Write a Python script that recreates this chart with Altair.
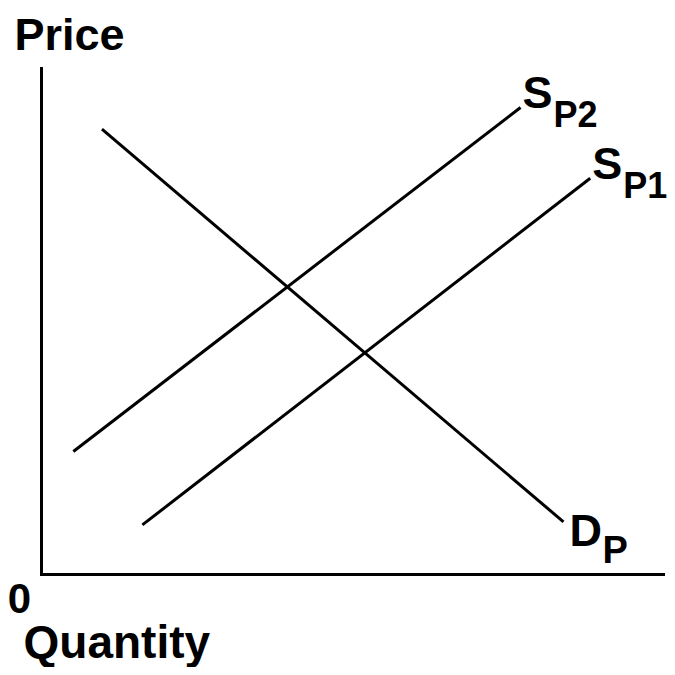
import altair as alt
import pandas as pd

# Curves (quantity / price units, axis range 0-100)
curve_names = ["D_P", "S_P2", "S_P1"]
q_start = [9.8, 5.2, 16.3]
p_start = [87.9, 24.2, 9.7]
q_end = [84.0, 77.1, 88.3]
p_end = [10.3, 92.2, 78.2]
label_main = ["D", "S", "S"]
label_sub = ["P", "P2", "P1"]
curve_kind = ["demand", "supply", "supply"]

origin_label = ["0"]

FONT = "Liberation Sans"

df = pd.DataFrame({
    "name": curve_names,
    "q0": q_start, "p0": p_start,
    "q1": q_end, "p1": p_end,
    "main": label_main, "sub": label_sub,
    "kind": curve_kind,
})
origin_df = pd.DataFrame({"q": [0], "p": [0], "t": origin_label})

xs = alt.Scale(domain=[0, 100], nice=False, zero=False)
ys = alt.Scale(domain=[0, 100], nice=False, zero=False)

x_axis = alt.Axis(domain=True, domainWidth=3, domainColor="black", domainCap="square",
                  ticks=False, labels=False, grid=False,
                  title="Quantity", titleX=-18, titleY=83, titleAlign="left",
                  titleBaseline="alphabetic", titleAngle=0, titleFontSize=46,
                  titleFont=FONT, titleFontWeight="bold", titleColor="black")
y_axis = alt.Axis(domain=True, domainWidth=3, domainColor="black", domainCap="square",
                  ticks=False, labels=False, grid=False,
                  title="Price", titleX=-27, titleY=-19, titleAlign="left",
                  titleBaseline="alphabetic", titleAngle=0, titleFontSize=45,
                  titleFont=FONT, titleFontWeight="bold", titleColor="black")

base = alt.Chart(df)

lines = base.mark_rule(color="black", strokeWidth=3).encode(
    x=alt.X("q0:Q", scale=xs, axis=x_axis),
    y=alt.Y("p0:Q", scale=ys, axis=y_axis),
    x2="q1:Q",
    y2="p1:Q",
)

sup = base.transform_filter(alt.datum.kind == "supply")
dem = base.transform_filter(alt.datum.kind == "demand")

txt = dict(font=FONT, fontWeight="bold", color="black", align="left", baseline="alphabetic")

sup_main = sup.mark_text(fontSize=45, dx=2, dy=1, **txt).encode(
    x=alt.X("q1:Q", scale=xs), y=alt.Y("p1:Q", scale=ys), text="main:N")
sup_sub = sup.mark_text(fontSize=36, dx=33, dy=20, **txt).encode(
    x=alt.X("q1:Q", scale=xs), y=alt.Y("p1:Q", scale=ys), text="sub:N")
dem_main = dem.mark_text(fontSize=45, dx=6, dy=24, **txt).encode(
    x=alt.X("q1:Q", scale=xs), y=alt.Y("p1:Q", scale=ys), text="main:N")
dem_sub = dem.mark_text(fontSize=38, dx=39, dy=41, **txt).encode(
    x=alt.X("q1:Q", scale=xs), y=alt.Y("p1:Q", scale=ys), text="sub:N")

zero = alt.Chart(origin_df).mark_text(fontSize=42, dx=-21.5, dy=39, font=FONT,
                                      fontWeight="bold", color="black",
                                      align="center", baseline="alphabetic").encode(
    x=alt.X("q:Q", scale=xs), y=alt.Y("p:Q", scale=ys), text="t:N")

chart = alt.layer(lines, sup_main, sup_sub, dem_main, dem_sub, zero).properties(
    width=622, height=506,
    background="white",
    autosize=alt.AutoSizeParams(type="none"),
    padding={"left": 33, "top": 60, "right": 4, "bottom": 93},
).configure_view(stroke=None)

chart.save("out.html", embed_options={"renderer": "svg", "actions": False})
